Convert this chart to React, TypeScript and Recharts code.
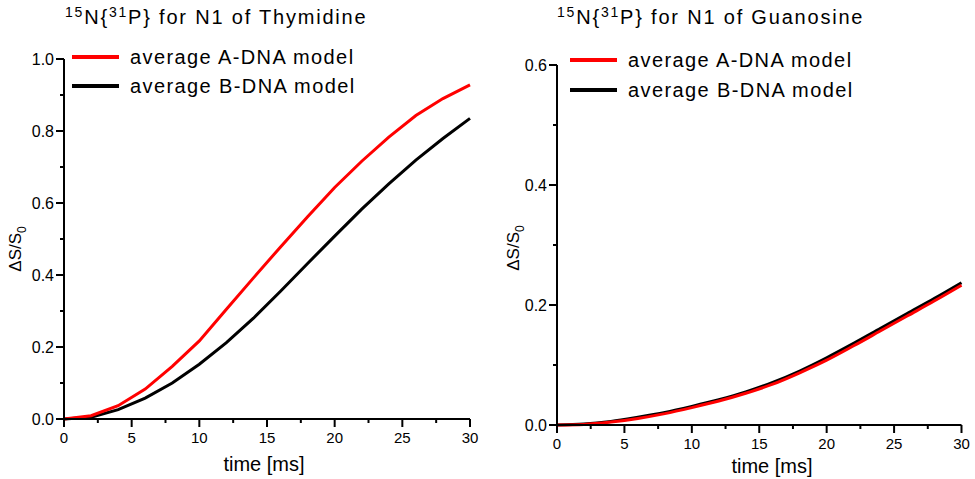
import React from 'react';
import { LineChart, Line, XAxis, YAxis } from 'recharts';

const FONT = '"Liberation Sans", Arial, Helvetica, sans-serif';

const timeMs = [0, 2, 4, 6, 8, 10, 12, 14, 16, 18, 20, 22, 24, 26, 28, 30];
const thyA = [0, 0.009, 0.037, 0.083, 0.146, 0.217, 0.305, 0.392, 0.478, 0.562, 0.643, 0.716, 0.783, 0.843, 0.89, 0.928];
const thyB = [0, 0.005, 0.026, 0.058, 0.1, 0.152, 0.212, 0.28, 0.355, 0.432, 0.508, 0.583, 0.653, 0.719, 0.779, 0.835];
const guaA = [0, 0.001, 0.005, 0.011, 0.019, 0.029, 0.04, 0.053, 0.068, 0.087, 0.108, 0.132, 0.157, 0.182, 0.207, 0.233];
const guaB = [0, 0.0015, 0.006, 0.013, 0.021, 0.031, 0.042, 0.055, 0.071, 0.09, 0.112, 0.136, 0.161, 0.186, 0.211, 0.237];

const xTicks = [0, 2.5, 5, 7.5, 10, 12.5, 15, 17.5, 20, 22.5, 25, 27.5, 30];
const yTicksThy = [0, 0.1, 0.2, 0.3, 0.4, 0.5, 0.6, 0.7, 0.8, 0.9, 1.0];
const yTicksGua = [0, 0.1, 0.2, 0.3, 0.4, 0.5, 0.6];

const seriesNames = ['average A-DNA model', 'average B-DNA model'];
const seriesColors = ['#ff0000', '#000000'];

const dataThy = timeMs.map((t, i) => ({ t, a: thyA[i], b: thyB[i] }));
const dataGua = timeMs.map((t, i) => ({ t, a: guaA[i], b: guaB[i] }));

const XTick = (props: any) => {
  const { x, y, payload } = props;
  const v = payload.value;
  const major = Math.abs(v % 5) < 1e-6;
  return (
    <g>
      <line x1={x} x2={x} y1={y} y2={y + (major ? 8 : 4)} stroke="#000" strokeWidth={2} />
      {major && (
        <text x={x} y={y + 24} textAnchor="middle" fontSize={15} fontFamily={FONT} fill="#000">
          {String(v)}
        </text>
      )}
    </g>
  );
};

const YTick = (props: any) => {
  const { x, y, payload } = props;
  const v = payload.value;
  const major = Math.round(v * 10) % 2 === 0;
  return (
    <g>
      <line x1={x} x2={x - (major ? 8 : 4)} y1={y} y2={y} stroke="#000" strokeWidth={2} />
      {major && (
        <text x={x - 10} y={y + 6} textAnchor="end" fontSize={16} fontFamily={FONT} fill="#000">
          {v.toFixed(1)}
        </text>
      )}
    </g>
  );
};

const yLabel = (cx: number, cy: number) => () => (
  <text x={cx} y={cy} transform={`rotate(-90 ${cx} ${cy})`} textAnchor="middle" fontSize={17} fontFamily={FONT} fill="#000">
    ΔS/S<tspan fontSize={12} dy={5}>0</tspan>
  </text>
);

const xLabel = (cx: number, cy: number) => () => (
  <text x={cx} y={cy} textAnchor="middle" fontSize={20} fontFamily={FONT} fill="#000">
    time [ms]
  </text>
);

const Panel = (props: any) => {
  const { data, width, margin, yTicks, yMax, yLab, xLab, curve } = props;
  return (
    <LineChart width={width} height={479} data={data} margin={margin}>
      <XAxis
        dataKey="t"
        type="number"
        domain={[0, 30]}
        ticks={xTicks}
        interval={0}
        tickLine={false}
        tickSize={0}
        tickMargin={0}
        height={30}
        axisLine={{ stroke: '#000', strokeWidth: 2 }}
        tick={<XTick />}
        label={{ content: xLab }}
      />
      <YAxis
        type="number"
        domain={[0, yMax]}
        ticks={yTicks}
        interval={0}
        tickLine={false}
        tickSize={0}
        tickMargin={0}
        width={50}
        axisLine={{ stroke: '#000', strokeWidth: 2 }}
        tick={<YTick />}
        label={{ content: yLab }}
      />
      <Line type={curve} dataKey="b" stroke={seriesColors[1]} strokeWidth={3} dot={false} isAnimationActive={false} />
      <Line type={curve} dataKey="a" stroke={seriesColors[0]} strokeWidth={3} dot={false} isAnimationActive={false} />
    </LineChart>
  );
};

const Title = ({ x, y, name }: { x: number; y: number; name: string }) => (
  <text x={x} y={y} fontSize={20} fontFamily={FONT} letterSpacing={1.8} fill="#000">
    <tspan fontSize={14} dy={-7}>15</tspan>
    <tspan dy={7}>N{'{'}</tspan>
    <tspan fontSize={14} dy={-7}>31</tspan>
    <tspan dy={7}>P{'}'} for N1 of {name}</tspan>
  </text>
);

const LegendBlock = ({ x, y0, gap }: { x: number; y0: number; gap: number }) => (
  <g>
    {seriesNames.map((n, i) => (
      <g key={n}>
        <line x1={x} x2={x + 47} y1={y0 + i * gap} y2={y0 + i * gap} stroke={seriesColors[i]} strokeWidth={4} />
        <text x={x + 58} y={y0 + i * gap + 7} fontSize={20} fontFamily={FONT} letterSpacing={1.4} fill="#000">
          {n}
        </text>
      </g>
    ))}
  </g>
);

export default function App() {
  return (
    <div style={{ position: 'fixed', left: 0, top: 0, width: 975, height: 479, background: '#fff', fontFamily: FONT }}>
      <div style={{ position: 'absolute', left: 0, top: 0 }}>
        <Panel
          data={dataThy}
          width={487}
          margin={{ top: 59, right: 17, bottom: 30, left: 14 }}
          yTicks={yTicksThy}
          yMax={1}
          yLab={yLabel(21, 249)}
          xLab={xLabel(264, 471)}
          curve="linear"
        />
      </div>
      <div style={{ position: 'absolute', left: 487, top: 0 }}>
        <Panel
          data={dataGua}
          width={488}
          margin={{ top: 65, right: 13.5, bottom: 24, left: 20 }}
          yTicks={yTicksGua}
          yMax={0.6}
          yLab={yLabel(32, 248)}
          xLab={xLabel(285, 473)}
          curve="monotone"
        />
      </div>
      <svg width={975} height={479} style={{ position: 'absolute', left: 0, top: 0, pointerEvents: 'none' }}>
        <Title x={65} y={24} name="Thymidine" />
        <Title x={557} y={24} name="Guanosine" />
        <LegendBlock x={72} y0={57} gap={29} />
        <LegendBlock x={570} y0={60} gap={30} />
      </svg>
    </div>
  );
}
